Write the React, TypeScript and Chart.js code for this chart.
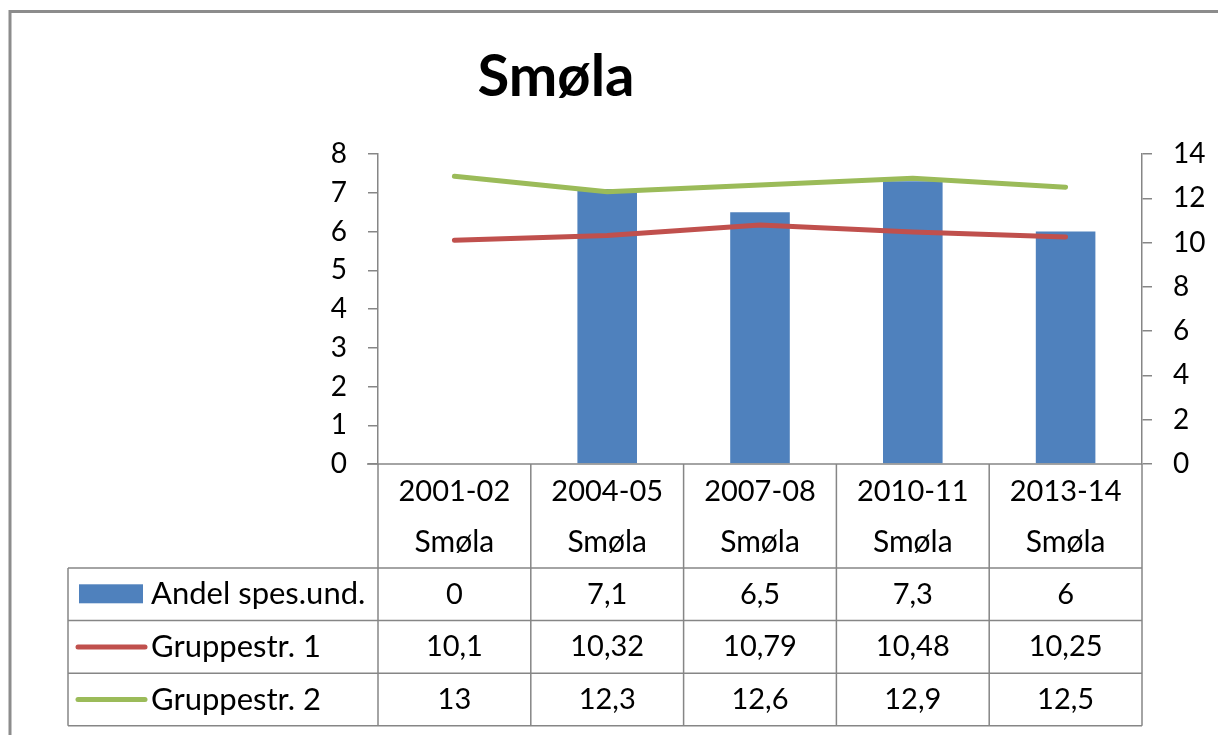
import React, { useEffect, useRef } from "react";
import { Chart, registerables } from "chart.js";

Chart.register(...registerables);

// ---- data ----
const chartTitle = "Smøla";
const categories = ["2001-02", "2004-05", "2007-08", "2010-11", "2013-14"];
const categorySubLabel = "Smøla";
const seriesNames = ["Andel spes.und.", "Gruppestr. 1", "Gruppestr. 2"];
const andelSpesUnd = [0, 7.1, 6.5, 7.3, 6];
const gruppestr1 = [10.1, 10.32, 10.79, 10.48, 10.25];
const gruppestr2 = [13, 12.3, 12.6, 12.9, 12.5];
const leftAxis = { min: 0, max: 8, step: 1 };
const rightAxis = { min: 0, max: 14, step: 2 };

// ---- styles ----
const BLUE = "#4F81BD";
const RED = "#C0504D";
const GREEN = "#9BBB59";
const LINE_GREY = "#868686";
const FONT = "Lato, 'Open Sans', sans-serif";
const TICK_SIZE = 28;
const NUM_SIZE = 29;
const WORD_SIZE = 31;

const fmt = (v: number) => String(v).replace(".", ",");

const tablePlugin = {
  id: "excelTable",
  afterDraw(chart: any) {
    const ctx = chart.ctx as CanvasRenderingContext2D;
    const area = chart.chartArea;
    const xs = chart.scales.x;
    ctx.save();

    // outer frame
    ctx.strokeStyle = "#8C8C8C";
    ctx.lineWidth = 3;
    ctx.strokeRect(10, 11.5, 1400, 1000);

    // title
    ctx.fillStyle = "#000";
    ctx.font = `bold 58px ${FONT}`;
    ctx.textAlign = "center";
    ctx.textBaseline = "alphabetic";
    ctx.fillText(chartTitle, 556, 96);

    const n = categories.length;
    const step = xs.getPixelForValue(1) - xs.getPixelForValue(0);
    const bounds: number[] = [];
    for (let i = 0; i <= n; i++) bounds.push(xs.getPixelForValue(0) - step / 2 + i * step);

    const top = area.bottom;
    const headerH = 104;
    const rowH = 52.6;
    const tableLeft = 68;
    const rowTops = [top + headerH, top + headerH + rowH, top + headerH + 2 * rowH];
    const bottom = top + headerH + 3 * rowH;

    ctx.strokeStyle = LINE_GREY;
    ctx.lineWidth = 1.5;
    ctx.beginPath();
    // category axis line
    ctx.moveTo(area.left - 11, top);
    ctx.lineTo(area.right, top);
    // vertical column lines
    for (const b of bounds) {
      ctx.moveTo(b, top);
      ctx.lineTo(b, bottom);
    }
    ctx.moveTo(tableLeft, rowTops[0]);
    ctx.lineTo(tableLeft, bottom);
    // horizontal lines
    for (const y of [...rowTops, bottom]) {
      ctx.moveTo(tableLeft, y);
      ctx.lineTo(area.right, y);
    }
    ctx.stroke();

    // header labels
    ctx.fillStyle = "#000";
    ctx.textAlign = "center";
    ctx.textBaseline = "middle";
    categories.forEach((c, i) => {
      const cx = xs.getPixelForValue(i);
      ctx.font = `${NUM_SIZE}px ${FONT}`;
      ctx.fillText(c, cx, top + 28);
      ctx.font = `${WORD_SIZE - 1}px ${FONT}`;
      ctx.fillText(categorySubLabel, cx, top + 78);
    });

    // rows
    const rows = [andelSpesUnd, gruppestr1, gruppestr2];
    const colors = [BLUE, RED, GREEN];
    rows.forEach((vals, r) => {
      const cy = rowTops[r] + rowH / 2;
      // legend key
      if (r === 0) {
        ctx.fillStyle = colors[r];
        ctx.fillRect(79, cy - 10, 64, 19);
      } else {
        ctx.strokeStyle = colors[r];
        ctx.lineWidth = 5;
        ctx.lineCap = "round";
        ctx.beginPath();
        ctx.moveTo(78, cy);
        ctx.lineTo(145, cy);
        ctx.stroke();
      }
      ctx.fillStyle = "#000";
      ctx.textAlign = "left";
      ctx.font = `${WORD_SIZE}px ${FONT}`;
      ctx.fillText(seriesNames[r], 151, cy);
      ctx.textAlign = "center";
      ctx.font = `${NUM_SIZE}px ${FONT}`;
      vals.forEach((v, i) => {
        ctx.fillText(fmt(v), xs.getPixelForValue(i), cy);
      });
    });

    ctx.restore();
  },
};

export default function App() {
  const ref = useRef<HTMLCanvasElement | null>(null);

  useEffect(() => {
    document.body.style.margin = "0";
    const canvas = ref.current!;
    const chart = new Chart(canvas, {
      type: "bar",
      data: {
        labels: categories,
        datasets: [
          {
            type: "bar",
            label: seriesNames[0],
            data: andelSpesUnd,
            backgroundColor: BLUE,
            borderWidth: 0,
            barPercentage: 0.39,
            categoryPercentage: 1,
            yAxisID: "y",
            order: 3,
          },
          {
            type: "line",
            label: seriesNames[1],
            data: gruppestr1,
            borderColor: RED,
            backgroundColor: RED,
            borderWidth: 5,
            pointRadius: 0,
            tension: 0,
            borderCapStyle: "round",
            borderJoinStyle: "round",
            yAxisID: "y1",
            order: 2,
          },
          {
            type: "line",
            label: seriesNames[2],
            data: gruppestr2,
            borderColor: GREEN,
            backgroundColor: GREEN,
            borderWidth: 5,
            pointRadius: 0,
            tension: 0,
            borderCapStyle: "round",
            borderJoinStyle: "round",
            yAxisID: "y1",
            order: 1,
          },
        ],
      } as any,
      options: {
        responsive: false,
        animation: false,
        devicePixelRatio: 1,
        layout: { padding: { top: 154, bottom: 271, left: 0, right: 0 } },
        plugins: {
          legend: { display: false },
          tooltip: { enabled: false },
          title: { display: false },
        },
        scales: {
          x: { display: false, offset: true },
          y: {
            position: "left",
            min: leftAxis.min,
            max: leftAxis.max,
            ticks: {
              stepSize: leftAxis.step,
              color: "#000",
              font: { family: FONT, size: TICK_SIZE },
              padding: 21,
            },
            grid: {
              drawOnChartArea: false,
              drawTicks: true,
              tickLength: 10,
              color: LINE_GREY,
              lineWidth: 1.5,
            },
            border: { color: LINE_GREY, width: 1.5 },
            afterFit: (s: any) => {
              s.width = 378;
            },
          },
          y1: {
            position: "right",
            min: rightAxis.min,
            max: rightAxis.max,
            ticks: {
              stepSize: rightAxis.step,
              color: "#000",
              font: { family: FONT, size: TICK_SIZE },
              padding: 21,
            },
            grid: {
              drawOnChartArea: false,
              drawTicks: true,
              tickLength: 10,
              color: LINE_GREY,
              lineWidth: 1.5,
            },
            border: { color: LINE_GREY, width: 1.5 },
            afterFit: (s: any) => {
              s.width = 76;
            },
          },
        },
      } as any,
      plugins: [tablePlugin],
    });
    return () => chart.destroy();
  }, []);

  return (
    <div style={{ position: "absolute", left: 0, top: 0, width: 1218, height: 735, background: "#fff" }}>
      <canvas ref={ref} width={1218} height={735} style={{ display: "block" }} />
    </div>
  );
}
